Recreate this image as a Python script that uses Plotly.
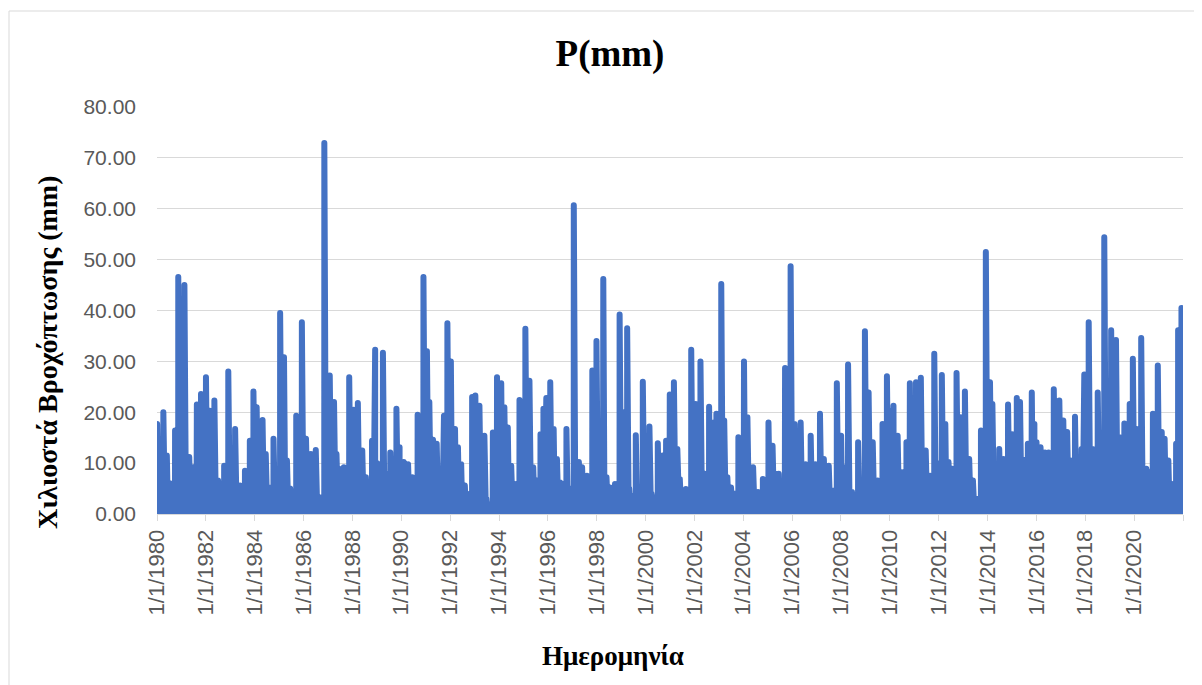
import pandas as pd
import plotly.graph_objects as go

# Main rain-event days (mm); days not listed are dry (0 mm)
event_dates = [
    "1980-01-03", "1980-04-05", "1980-05-27", "1980-07-20", "1980-09-27", "1980-11-14",
    "1981-02-14", "1981-04-27", "1981-06-28", "1981-08-19", "1981-10-20",
    "1982-01-02", "1982-02-28", "1982-05-08", "1982-07-02", "1982-08-29", "1982-10-01", "1982-12-02",
    "1983-03-14", "1983-05-27", "1983-08-08", "1983-10-20", "1983-12-13",
    "1984-01-30", "1984-04-27", "1984-06-14", "1984-08-08", "1984-10-08",
    "1985-01-15", "1985-03-14", "1985-04-27", "1985-06-14", "1985-09-13", "1985-12-06",
    "1986-02-06", "1986-04-20", "1986-07-02", "1986-09-24", "1986-11-07",
    "1987-01-27", "1987-04-01", "1987-05-08", "1987-06-14", "1987-08-26", "1987-11-14",
    "1988-01-19", "1988-03-22", "1988-05-27", "1988-07-20", "1988-09-13", "1988-10-20", "1988-12-06",
    "1989-02-06", "1989-04-01", "1989-05-27", "1989-07-20", "1989-10-20", "1989-12-06",
    "1990-02-06", "1990-04-12", "1990-06-14", "1990-09-02", "1990-11-28",
    "1991-01-19", "1991-02-24", "1991-04-20", "1991-06-14", "1991-08-15", "1991-10-01", "1991-11-21",
    "1992-01-12", "1992-02-14", "1992-03-14", "1992-04-27", "1992-06-14", "1992-08-08", "1992-11-25",
    "1993-01-12", "1993-03-14", "1993-05-27", "1993-07-20", "1993-08-15", "1993-10-01", "1993-12-02",
    "1994-02-03", "1994-03-22", "1994-05-12", "1994-07-02", "1994-08-26", "1994-11-03",
    "1995-01-30", "1995-04-01", "1995-05-27", "1995-07-20", "1995-09-13", "1995-10-27", "1995-12-09",
    "1996-02-06", "1996-03-28", "1996-05-16", "1996-07-02", "1996-08-15", "1996-10-05",
    "1997-01-23", "1997-04-09", "1997-05-27", "1997-08-08", "1997-10-27", "1997-12-28",
    "1998-02-17", "1998-04-09", "1998-05-27", "1998-07-20", "1998-10-01", "1998-12-09",
    "1999-02-14", "1999-04-01", "1999-06-03", "1999-08-08", "1999-11-21",
    "2000-01-12", "2000-02-28", "2000-05-01", "2000-07-02", "2000-09-13", "2000-11-03", "2000-12-28",
    "2001-02-28", "2001-04-20", "2001-05-27", "2001-07-02", "2001-08-26", "2001-11-14",
    "2002-01-19", "2002-04-01", "2002-06-03", "2002-08-08", "2002-09-20", "2002-11-25",
    "2003-02-06", "2003-03-22", "2003-05-08", "2003-07-02", "2003-08-26", "2003-10-20",
    "2004-01-12", "2004-03-03", "2004-04-20", "2004-05-27", "2004-08-08", "2004-10-20",
    "2005-01-12", "2005-03-14", "2005-04-27", "2005-06-14", "2005-08-01", "2005-09-17", "2005-12-09",
    "2006-02-06", "2006-05-08", "2006-07-20", "2006-10-05", "2006-12-13",
    "2007-02-21", "2007-04-20", "2007-07-02", "2007-08-26", "2007-10-31",
    "2008-01-03", "2008-02-14", "2008-04-16", "2008-06-14", "2008-09-13", "2008-12-24",
    "2009-02-17", "2009-04-20", "2009-07-02", "2009-09-13", "2009-11-18",
    "2010-01-12", "2010-02-24", "2010-04-27", "2010-07-02", "2010-09-06", "2010-10-27",
    "2011-01-27", "2011-04-09", "2011-06-21", "2011-08-26", "2011-10-27",
    "2012-02-17", "2012-04-09", "2012-05-27", "2012-07-20", "2012-09-24", "2012-11-25",
    "2013-01-27", "2013-04-01", "2013-05-27", "2013-07-20", "2013-09-24", "2013-12-06",
    "2014-02-06", "2014-03-14", "2014-06-24", "2014-08-26", "2014-11-03",
    "2015-01-03", "2015-03-14", "2015-05-01", "2015-07-02", "2015-08-26", "2015-10-24", "2015-12-02",
    "2016-01-03", "2016-03-03", "2016-05-08", "2016-07-02", "2016-09-17", "2016-12-09",
    "2017-02-06", "2017-04-05", "2017-05-27", "2017-07-31", "2017-09-20", "2017-11-07", "2017-12-17",
    "2018-02-21", "2018-04-20", "2018-07-06", "2018-10-12",
    "2019-01-23", "2019-04-05", "2019-05-27", "2019-08-08", "2019-09-13", "2019-10-27", "2019-12-13",
    "2020-02-06", "2020-04-16", "2020-07-02", "2020-08-15", "2020-10-08", "2020-12-20",
    "2021-02-17", "2021-04-01", "2021-05-27", "2021-07-20", "2021-08-19", "2021-09-20", "2021-10-20",
    "2021-12-09", "2021-12-28",
]
event_values = [
    17.7, 20.0, 11.5, 6.0, 16.4, 46.6,
    45.0, 11.2, 9.2, 21.5, 23.6,
    26.9, 20.3, 22.3, 6.6, 2.6, 9.5, 28.0,
    16.7, 5.6, 8.5, 14.4, 24.1,
    21.0, 18.5, 11.8, 5.2, 14.8,
    39.5, 30.8, 10.5, 5.0, 19.3, 37.7,
    14.8, 11.8, 12.6, 3.3, 72.9,
    27.2, 22.0, 11.8, 8.9, 9.2, 26.9,
    20.5, 21.8, 12.5, 7.2, 4.3, 14.4, 32.3,
    9.8, 31.7, 7.9, 12.1, 20.7, 13.1,
    10.2, 9.8, 7.2, 19.5, 46.6,
    32.0, 22.0, 14.6, 13.8, 4.9, 19.3, 37.5,
    30.0, 14.6, 16.7, 13.1, 9.8, 5.6, 23.0,
    23.3, 21.3, 15.4, 2.0, 1.6, 16.0, 26.9,
    25.7, 21.0, 17.0, 9.5, 5.9, 22.4,
    36.4, 26.2, 9.2, 6.6, 15.7, 20.7, 22.8,
    25.9, 16.7, 10.8, 6.2, 5.9, 16.7,
    60.7, 10.2, 9.2, 7.5, 28.2, 34.0,
    7.2, 46.2, 7.2, 5.2, 5.9, 39.2,
    20.0, 36.5, 3.6, 15.5, 26.0,
    4.0, 17.2, 3.3, 13.9, 11.5, 14.4, 23.5,
    25.9, 12.8, 6.9, 3.6, 4.9, 32.3,
    21.6, 30.0, 7.9, 21.1, 18.0, 19.7,
    45.2, 18.4, 7.2, 5.2, 4.0, 15.1,
    30.0, 19.0, 9.2, 9.2, 4.3, 6.9,
    18.0, 13.4, 7.9, 7.9, 4.6, 28.7, 48.7,
    17.7, 18.0, 9.8, 15.4, 9.8,
    19.7, 10.8, 9.5, 4.6, 25.7,
    15.4, 9.2, 29.4, 4.3, 14.1, 35.9,
    23.9, 14.1, 6.6, 17.7, 27.1,
    20.3, 21.3, 15.4, 8.2, 14.1, 25.7,
    25.9, 26.8, 12.5, 7.5, 31.5,
    27.3, 17.7, 10.2, 8.9, 27.7, 19.0,
    24.1, 10.8, 6.6, 3.0, 16.4, 51.5,
    25.9, 21.6, 12.8, 10.8, 21.5,
    15.7, 22.8, 22.0, 10.6, 13.8, 23.9, 17.7,
    14.1, 13.1, 12.1, 12.1, 24.5, 22.3,
    18.4, 16.1, 10.5, 19.1, 7.9, 12.8, 27.4,
    37.7, 12.8, 23.9, 54.4,
    36.1, 34.2, 15.1, 17.8, 17.4, 21.6, 30.5,
    16.7, 34.6, 8.9, 8.2, 19.7, 29.2,
    16.1, 14.8, 10.5, 5.9, 3.3, 13.8, 36.1,
    40.5, 35.4,
]

# Smaller rain days (the dense low band between the spikes) (mm)
minor_dates = [
    "1980-02-18", "1980-05-01", "1980-06-23", "1980-08-23", "1980-10-21", "1980-12-15",
    "1981-01-10", "1981-03-20", "1981-05-28", "1981-07-24", "1981-09-20", "1981-11-25",
    "1982-01-28", "1982-04-03", "1982-06-05", "1982-07-31", "1982-09-15", "1982-10-31",
    "1983-01-20", "1983-02-10", "1983-04-20", "1983-07-01", "1983-09-14", "1983-11-15",
    "1984-01-05", "1984-03-15", "1984-05-20", "1984-07-10", "1984-09-07", "1984-11-25",
    "1985-02-15", "1985-04-05", "1985-05-20", "1985-07-30", "1985-10-25",
    "1986-01-05", "1986-03-12", "1986-06-01", "1986-08-15", "1986-10-15", "1986-12-15",
    "1987-03-01", "1987-04-20", "1987-05-25", "1987-07-20", "1987-10-05", "1987-12-15",
    "1988-02-20", "1988-04-25", "1988-06-25", "1988-08-15", "1988-09-30", "1988-11-15",
    "1989-01-05", "1989-03-05", "1989-04-30", "1989-06-25", "1989-09-05", "1989-11-15",
    "1990-01-05", "1990-03-10", "1990-05-15", "1990-07-20", "1990-10-15", "1990-12-20",
    "1991-02-08", "1991-03-20", "1991-05-15", "1991-07-15", "1991-09-10", "1991-10-28", "1991-12-20",
    "1992-01-28", "1992-02-28", "1992-04-05", "1992-05-20", "1992-07-10", "1992-09-25", "1992-10-25", "1992-12-20",
    "1993-02-10", "1993-04-20", "1993-06-25", "1993-09-10", "1993-11-05",
    "1994-01-05", "1994-02-25", "1994-04-15", "1994-06-05", "1994-07-30", "1994-09-30", "1994-12-10",
    "1995-03-01", "1995-04-30", "1995-06-20", "1995-08-15", "1995-10-05", "1995-11-20",
    "1996-01-05", "1996-03-05", "1996-04-20", "1996-06-10", "1996-07-25", "1996-09-10", "1996-11-20", "1996-12-20",
    "1997-02-28", "1997-05-01", "1997-07-01", "1997-09-15", "1997-11-28",
    "1998-01-20", "1998-03-15", "1998-05-01", "1998-06-25", "1998-08-25", "1998-11-05",
    "1999-01-10", "1999-03-08", "1999-05-01", "1999-07-05", "1999-09-30", "1999-12-20",
    "2000-02-05", "2000-03-30", "2000-06-01", "2000-08-05", "2000-10-10", "2000-12-01",
    "2001-01-25", "2001-03-25", "2001-05-08", "2001-06-15", "2001-07-30", "2001-10-05", "2001-12-20",
    "2002-02-25", "2002-05-01", "2002-07-05", "2002-09-01", "2002-10-25", "2002-12-30",
    "2003-03-01", "2003-04-15", "2003-06-05", "2003-08-01", "2003-09-25", "2003-12-15",
    "2004-02-10", "2004-04-01", "2004-05-08", "2004-07-01", "2004-09-15", "2004-11-25",
    "2005-02-10", "2005-04-05", "2005-05-20", "2005-07-10", "2005-08-25", "2005-10-25", "2005-12-31",
    "2006-03-20", "2006-06-15", "2006-09-01", "2006-11-10",
    "2007-01-15", "2007-03-20", "2007-05-30", "2007-07-30", "2007-09-25", "2007-12-05",
    "2008-01-25", "2008-03-15", "2008-05-15", "2008-07-30", "2008-11-01",
    "2009-01-20", "2009-03-20", "2009-05-30", "2009-08-10", "2009-10-15", "2009-12-20",
    "2010-02-05", "2010-03-28", "2010-05-30", "2010-08-05", "2010-10-01", "2010-12-10",
    "2011-03-05", "2011-05-15", "2011-07-25", "2011-09-25", "2011-12-05",
    "2012-01-10", "2012-03-15", "2012-05-01", "2012-06-25", "2012-08-20", "2012-10-25", "2012-12-25",
    "2013-03-01", "2013-04-30", "2013-06-25", "2013-08-20", "2013-10-30",
    "2014-01-05", "2014-02-25", "2014-05-01", "2014-07-25", "2014-09-30", "2014-12-01",
    "2015-02-05", "2015-04-05", "2015-06-01", "2015-07-30", "2015-09-25", "2015-11-15", "2015-12-18",
    "2016-02-01", "2016-04-05", "2016-06-05", "2016-08-10", "2016-10-25", "2016-12-28",
    "2017-03-05", "2017-05-01", "2017-06-28", "2017-08-25", "2017-10-15", "2017-12-01",
    "2018-01-15", "2018-03-20", "2018-05-28", "2018-08-25", "2018-11-20", "2018-12-25",
    "2019-03-01", "2019-05-01", "2019-07-01", "2019-08-25", "2019-10-05", "2019-11-20",
    "2020-01-10", "2020-03-10", "2020-05-25", "2020-07-25", "2020-09-10", "2020-11-15",
    "2021-01-20", "2021-03-10", "2021-05-01", "2021-06-25", "2021-08-05", "2021-09-05", "2021-10-05", "2021-11-10",
]
minor_values = [
    6, 8, 4, 3, 9, 7,
    10, 7, 5, 4, 8, 9,
    12, 9, 6, 3, 2, 5,
    8, 6, 4, 3, 5, 9,
    10, 7, 6, 4, 3, 6,
    12, 9, 4, 3, 8,
    9, 7, 5, 3, 3, 12,
    9, 7, 5, 3, 4, 8,
    9, 6, 4, 3, 3, 8,
    10, 7, 4, 4, 5, 9,
    8, 6, 4, 3, 8, 12,
    14, 9, 6, 3, 4, 8, 12,
    9, 8, 7, 5, 4, 3, 4, 9,
    10, 6, 3, 2, 8,
    9, 9, 8, 5, 3, 4, 10,
    12, 7, 4, 4, 6, 8,
    9, 8, 6, 4, 3, 3, 4, 5,
    8, 5, 3, 3, 9,
    6, 5, 4, 3, 3, 4,
    10, 8, 5, 3, 3, 8,
    5, 4, 3, 4, 5, 6,
    9, 7, 5, 3, 3, 4, 9,
    9, 7, 5, 7, 8, 10,
    10, 6, 3, 3, 4, 8,
    10, 7, 6, 3, 3, 4,
    7, 5, 4, 3, 3, 9, 10,
    8, 5, 4, 5,
    5, 6, 5, 3, 3, 8,
    8, 6, 4, 3, 5,
    10, 7, 4, 3, 6, 9,
    9, 7, 5, 4, 6, 8,
    9, 6, 4, 5, 9,
    10, 9, 6, 5, 5, 7, 8,
    6, 4, 3, 3, 7,
    12, 10, 8, 6, 5, 8,
    9, 8, 7, 6, 7, 9, 9,
    8, 8, 7, 6, 8, 10,
    9, 7, 6, 5, 5, 8,
    12, 10, 8, 9, 14, 15,
    12, 9, 8, 8, 9, 10,
    10, 9, 6, 5, 6, 9,
    10, 8, 6, 4, 3, 4, 8, 12,
]

tick_years = list(range(1980, 2022, 2))
tick_labels = ["1/1/%d" % y for y in tick_years]
y_ticks = [0, 10, 20, 30, 40, 50, 60, 70, 80]

days = pd.date_range("1980-01-01", "2021-12-31", freq="D")
series = pd.Series(0.0, index=days)
series.loc[pd.to_datetime(minor_dates)] = minor_values
series.loc[pd.to_datetime(event_dates)] = event_values

fig = go.Figure()
fig.add_trace(go.Scatter(
    x=series.index, y=series.values, mode="lines",
    line=dict(color="#4472C4", width=6),
    showlegend=False, hoverinfo="skip",
))

# layout in figure pixels (page body adds an 8px offset)
W, H = 1194, 677
L, R, T, B = 149, 19, 99, 171
pw, ph = W - L - R, H - T - B
OFF = 8

def px(x):  # screen x -> paper
    return (x - OFF - L) / pw

def py(y):  # screen y -> paper
    return (H - B - (y - OFF)) / ph

fig.update_layout(
    width=W, height=H,
    margin=dict(l=L, r=R, t=T, b=B),
    paper_bgcolor="white", plot_bgcolor="white",
    title=dict(text="<b>P(mm)</b>", x=(610 - OFF) / W, xanchor="center", xref="container",
               y=1 - (53 - OFF) / H, yanchor="middle", yref="container",
               font=dict(family="Liberation Serif", size=37, color="black")),
    xaxis=dict(
        type="date", range=["1980-01-01", "2022-01-01"],
        tickvals=[pd.Timestamp("%d-01-01" % y) for y in tick_years] + [pd.Timestamp("2022-01-01")],
        ticktext=tick_labels + [""],
        tickangle=-90, ticks="outside", ticklen=6, tickcolor="#d9d9d9", tickwidth=1,
        tickfont=dict(family="Liberation Sans", size=22, color="#595959"),
        showgrid=False, showline=True, linecolor="#d9d9d9", linewidth=1, zeroline=False,
    ),
    yaxis=dict(
        range=[0, 80], tickvals=y_ticks, tickformat=".2f",
        tickfont=dict(family="Liberation Sans", size=21, color="#595959"),
        showgrid=True, gridcolor="#d9d9d9", gridwidth=1,
        zeroline=False, showline=False, ticks="", ticklabelstandoff=20,
    ),
    shapes=[dict(type="rect", xref="paper", yref="paper",
                 x0=px(9), x1=px(1220), y0=py(700), y1=py(11),
                 line=dict(color="#d9d9d9", width=1), fillcolor="rgba(0,0,0,0)", layer="below")],
    annotations=[
        dict(text="<b>Χιλιοστά Βροχόπτωσης (mm)</b>", textangle=-90,
             x=px(47), y=py(352), xref="paper", yref="paper", showarrow=False,
             xanchor="center", yanchor="middle",
             font=dict(family="Liberation Serif", size=28, color="black")),
        dict(text="<b>Ημερομηνία</b>",
             x=px(613), y=py(656), xref="paper", yref="paper", showarrow=False,
             xanchor="center", yanchor="middle",
             font=dict(family="Liberation Serif", size=27, color="black")),
    ],
)

round_js = """
var gd = document.getElementById('{plot_id}');
function roundLines() {
  gd.querySelectorAll('.scatterlayer path.js-line').forEach(function (p) {
    p.style.strokeLinejoin = 'round';
    p.style.strokeLinecap = 'round';
  });
}
roundLines();
gd.on('plotly_afterplot', roundLines);
"""

fig.write_html("out.html", post_script=round_js)
